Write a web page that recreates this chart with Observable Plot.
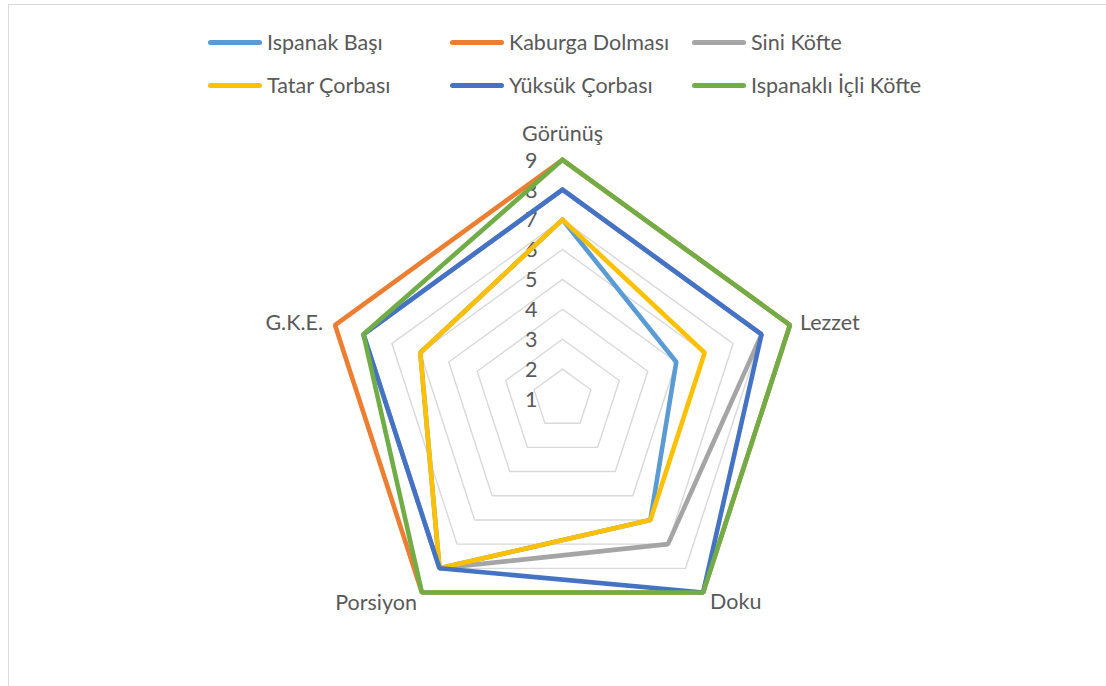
<!DOCTYPE html>
<html>
<head>
<meta charset="utf-8">
<script src="https://cdn.jsdelivr.net/npm/d3@7"></script>
<script src="https://cdn.jsdelivr.net/npm/@observablehq/plot@0.6"></script>
<style>
  html, body { margin: 0; padding: 0; background: #fff; }
  #wrap { position: relative; width: 1106px; height: 686px; overflow: hidden; font-family: Lato, "Open Sans", sans-serif; }
  #frame { position: absolute; left: 8px; top: 4px; width: 1200px; height: 800px; border-top: 1.5px solid #d9d9d9; border-left: 1.5px solid #d9d9d9; }
  #chart { position: absolute; left: 0; top: 0; }
  #legend { position: absolute; left: 208px; top: 30px; display: grid; grid-template-columns: 242px 242px 242px; row-gap: 19px; }
  .item { display: flex; align-items: center; height: 24px; color: #595959; font-size: 21.5px; white-space: nowrap; }
  .sw { width: 54px; height: 5px; border-radius: 3px; margin-right: 5px; }
</style>
</head>
<body>
<div id="wrap">
  <div id="frame"></div>
  <div id="chart"></div>
  <div id="legend"></div>
</div>
<script>
// ---- data ----
const categories = ["Görünüş", "Lezzet", "Doku", "Porsiyon", "G.K.E."];
const seriesNames = ["Ispanak Başı", "Kaburga Dolması", "Sini Köfte", "Tatar Çorbası", "Yüksük Çorbası", "Ispanaklı İçli Köfte"];
const ispanakBasi        = [7, 5, 6, 8, 6];
const kaburgaDolmasi     = [9, 9, 9, 9, 9];
const siniKofte          = [8, 8, 7, 8, 8];
const tatarCorbasi       = [7, 6, 6, 8, 6];
const yuksukCorbasi      = [8, 8, 9, 8, 8];
const ispanakliIcliKofte = [9, 9, 9, 9, 8];
const tickValues = [1, 2, 3, 4, 5, 6, 7, 8, 9];
const seriesColors = ["#5B9BD5", "#ED7D31", "#A5A5A5", "#FFC000", "#4472C4", "#70AD47"];

const seriesValues = [ispanakBasi, kaburgaDolmasi, siniKofte, tatarCorbasi, yuksukCorbasi, ispanakliIcliKofte];
const axisMin = 1, axisMax = 9;

// polar -> cartesian (unit = 1 value step; y up)
const angleOf = i => i * 2 * Math.PI / categories.length;
const px = (v, i) => (v - axisMin) * Math.sin(angleOf(i));
const py = (v, i) => (v - axisMin) * Math.cos(angleOf(i));

// series rows (closed polygons)
const rows = [];
seriesNames.forEach((s, k) => {
  const vals = seriesValues[k];
  for (let i = 0; i <= categories.length; i++) {
    const j = i % categories.length;
    rows.push({series: s, x: px(vals[j], j), y: py(vals[j], j)});
  }
});

// grid rows
const gridRows = [];
tickValues.filter(t => t > axisMin).forEach(t => {
  for (let i = 0; i <= categories.length; i++) {
    const j = i % categories.length;
    gridRows.push({level: t, x: px(t, j), y: py(t, j)});
  }
});

const catRows = categories.map((c, i) => ({c, i, x: px(axisMax, i), y: py(axisMax, i)}));
const tickRows = tickValues.map(t => ({t, x: 0, y: t - axisMin}));

// layout
const W = 1106, H = 686, cx = 562, cy = 398.5, unit = 29.9;

const textStyle = {fill: "#595959", fontSize: 21.5, fontFamily: "Lato, 'Open Sans', sans-serif"};

const plot = Plot.plot({
  width: W, height: H,
  margin: 0,
  x: {domain: [-cx / unit, (W - cx) / unit], axis: null},
  y: {domain: [-(H - cy) / unit, cy / unit], axis: null},
  color: {domain: seriesNames, range: seriesColors},
  marks: [
    Plot.line(gridRows, {x: "x", y: "y", z: "level", stroke: "#d9d9d9", strokeWidth: 1.4}),
    Plot.text(tickRows, {x: "x", y: "y", text: d => String(d.t), textAnchor: "end", dx: -25, dy: 1, ...textStyle}),
    Plot.line(rows, {x: "x", y: "y", z: "series", stroke: "series", strokeWidth: 4.6, strokeLinejoin: "miter", curve: "linear"}),
    Plot.text(catRows.filter(d => d.i === 0), {x: "x", y: "y", text: "c", dy: -26, textAnchor: "middle", ...textStyle}),
    Plot.text(catRows.filter(d => d.i === 1), {x: "x", y: "y", text: "c", dx: 10, dy: -2, textAnchor: "start", ...textStyle}),
    Plot.text(catRows.filter(d => d.i === 2), {x: "x", y: "y", text: "c", dx: 7, dy: 10, textAnchor: "start", ...textStyle}),
    Plot.text(catRows.filter(d => d.i === 3), {x: "x", y: "y", text: "c", dx: -5, dy: 11, textAnchor: "end", ...textStyle}),
    Plot.text(catRows.filter(d => d.i === 4), {x: "x", y: "y", text: "c", dx: -12, dy: -2, textAnchor: "end", ...textStyle})
  ]
});
plot.style.background = "transparent";
document.getElementById("chart").appendChild(plot);

// legend
const legend = document.getElementById("legend");
seriesNames.forEach((s, k) => {
  const it = document.createElement("div");
  it.className = "item";
  const sw = document.createElement("span");
  sw.className = "sw";
  sw.style.background = seriesColors[k];
  const tx = document.createElement("span");
  tx.textContent = s;
  it.appendChild(sw); it.appendChild(tx);
  legend.appendChild(it);
});
</script>
</body>
</html>
